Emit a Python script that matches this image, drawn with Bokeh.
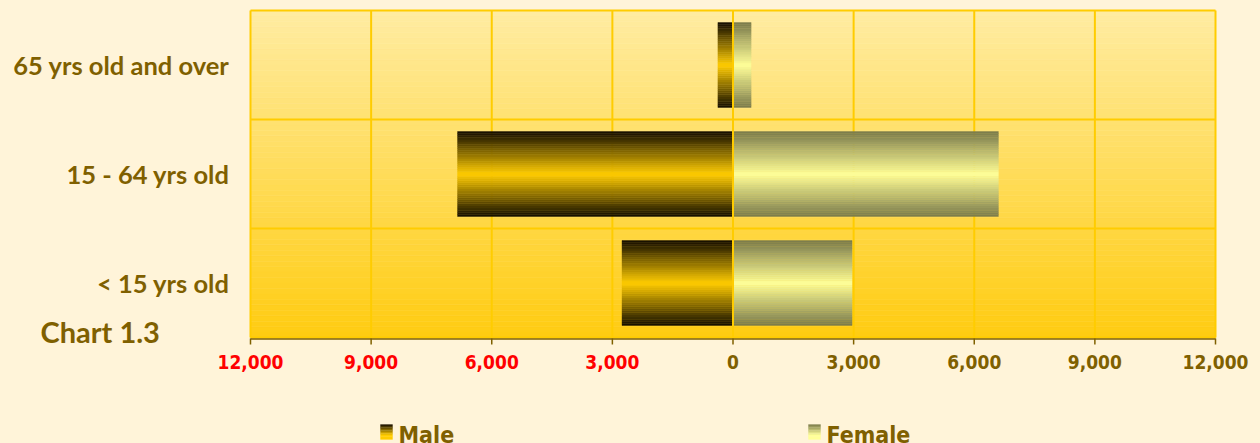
from bokeh.plotting import figure
from bokeh.models import Range1d, ColumnDataSource, GlobalInlineStyleSheet
from bokeh.core.properties import value
from bokeh.embed import file_html
from bokeh.resources import INLINE

# ---- data ----
categories = ["< 15 yrs old", "15 - 64 yrs old", "65 yrs old and over"]
male = [2760, 6850, 375]
female = [2960, 6600, 450]
x_ticks = [-12000, -9000, -6000, -3000, 0, 3000, 6000, 9000, 12000]
series_names = ["Male", "Female"]
caption = "Chart 1.3"

# ---- style ----
CREAM = "#FFF4D9"
GOLD = "#FFCC00"
OLIVE = "#7F6000"
RED = "#FF0000"
male_edge, male_mid = (18, 12, 0), (255, 204, 0)
fem_edge, fem_mid = (122, 122, 74), (255, 255, 153)
bg_top, bg_bot = (255, 236, 162), (255, 204, 17)
BAR_H = 0.78
NSTRIP = 40
NARROW = "'DejaVu Sans Condensed', 'Liberation Sans Narrow', Roboto, sans-serif"

# ---- layout: canvas pixels of the plot area ----
W, H = 1260, 443
PX_L, PX_R, PX_T, PX_B = 250, 1215, 10, 337
XMIN, XMAX = x_ticks[0], x_ticks[-1]
NCAT = len(categories)
xs = (XMAX - XMIN) / (PX_R - PX_L)      # data units per pixel
ys = NCAT / (PX_B - PX_T)


def dx(px):  # canvas pixel -> data x
    return XMIN + (px - PX_L) * xs


def dy(py):  # canvas pixel -> data y
    return (PX_B - py) * ys


def lerp(c1, c2, t):
    return "#%02x%02x%02x" % tuple(int(round(a + (b - a) * t)) for a, b in zip(c1, c2))


def bar_strips(vals, sign, edge, mid):
    d = dict(left=[], right=[], bottom=[], top=[], color=[])
    for i, v in enumerate(vals):
        y0 = i + 0.5 - BAR_H / 2
        for k in range(NSTRIP):
            s = (k + 0.5) / NSTRIP
            t = 1 - abs(2 * s - 1)
            d["bottom"].append(y0 + k * BAR_H / NSTRIP)
            d["top"].append(y0 + (k + 1) * BAR_H / NSTRIP)
            d["left"].append(min(0, sign * v))
            d["right"].append(max(0, sign * v))
            d["color"].append(lerp(edge, mid, t))
    return d


p = figure(width=W, height=H, output_backend="svg", toolbar_location=None,
           x_range=Range1d(dx(0), dx(W)), y_range=Range1d(dy(H), dy(0)),
           x_axis_location=None, y_axis_location=None, min_border=0)
p.stylesheets = [GlobalInlineStyleSheet(css="body { background: %s; }" % CREAM)]
p.border_fill_color = CREAM
p.background_fill_color = CREAM
p.outline_line_color = None
p.grid.visible = False

# plot-area background gradient
NB = 60
bgl = dict(left=[XMIN] * NB, right=[XMAX] * NB,
           bottom=[NCAT * k / NB for k in range(NB)], top=[NCAT * (k + 1) / NB for k in range(NB)],
           color=[lerp(bg_bot, bg_top, (k + 0.5) / NB) for k in range(NB)])
p.quad(source=ColumnDataSource(bgl), left="left", right="right", bottom="bottom", top="top",
       fill_color="color", line_color="color", line_width=0.5)

# grid lines
p.segment(x0=x_ticks, x1=x_ticks, y0=[0] * len(x_ticks), y1=[NCAT] * len(x_ticks),
          line_color=GOLD, line_width=2)
yb = list(range(NCAT + 1))
p.segment(x0=[XMIN] * len(yb), x1=[XMAX] * len(yb), y0=yb, y1=yb, line_color=GOLD, line_width=2)

# bars
p.quad(source=ColumnDataSource(bar_strips(male, -1, male_edge, male_mid)),
       left="left", right="right", bottom="bottom", top="top",
       fill_color="color", line_color="color", line_width=0.4)
p.quad(source=ColumnDataSource(bar_strips(female, 1, fem_edge, fem_mid)),
       left="left", right="right", bottom="bottom", top="top",
       fill_color="color", line_color="color", line_width=0.4)
# zero line over bars
p.segment(x0=[0], x1=[0], y0=[0], y1=[NCAT], line_color=GOLD, line_width=2)

# x axis: line, ticks, labels
p.segment(x0=[XMIN], x1=[XMAX], y0=[dy(PX_B + 1.5)], y1=[dy(PX_B + 1.5)], line_color=OLIVE, line_width=1.5)
p.segment(x0=x_ticks, x1=x_ticks, y0=[dy(PX_B + 1)] * len(x_ticks), y1=[dy(PX_B + 7)] * len(x_ticks),
          line_color=OLIVE, line_width=1.5)
p.text(x=x_ticks, y=[dy(361)] * len(x_ticks),
       text=["{:,}".format(abs(v)) for v in x_ticks],
       text_color=[RED if v < 0 else OLIVE for v in x_ticks],
       text_align="center", text_baseline="middle",
       text_font=value(NARROW), text_font_style="bold", text_font_size="19px")

# category labels
p.text(x=[dx(PX_L - 21)] * NCAT, y=[i + 0.5 for i in range(NCAT)], text=categories,
       text_color=OLIVE, text_align="right", text_baseline="middle",
       text_font=value("Lato"), text_font_style="bold", text_font_size="25.5px")

# caption
p.text(x=[dx(40)], y=[dy(331)], text=[caption], text_color=OLIVE,
       text_align="left", text_baseline="middle",
       text_font=value("Lato"), text_font_style="bold", text_font_size="29px")

# legend with gradient icons
icon_px = [380, 808]
NI = 10
leg = dict(left=[], right=[], bottom=[], top=[], color=[])
for ix, (e, m) in zip(icon_px, [(male_edge, male_mid), (fem_edge, fem_mid)]):
    for k in range(NI):
        s = (k + 0.5) / NI
        leg["left"].append(dx(ix))
        leg["right"].append(dx(ix + 12))
        leg["top"].append(dy(424 + 15 * k / NI))
        leg["bottom"].append(dy(424 + 15 * (k + 1) / NI))
        leg["color"].append(lerp(e, m, min(1.0, s * 1.4)))
p.quad(source=ColumnDataSource(leg), left="left", right="right", bottom="bottom", top="top",
       fill_color="color", line_color="color", line_width=0.3)
p.text(x=[dx(ix + 18) for ix in icon_px], y=[dy(421)] * 2, text=series_names,
       text_color=OLIVE, text_align="left", text_baseline="top",
       text_font=value(NARROW), text_font_style="bold", text_font_size="23px")

open("out.html", "w").write(file_html(p, INLINE))
